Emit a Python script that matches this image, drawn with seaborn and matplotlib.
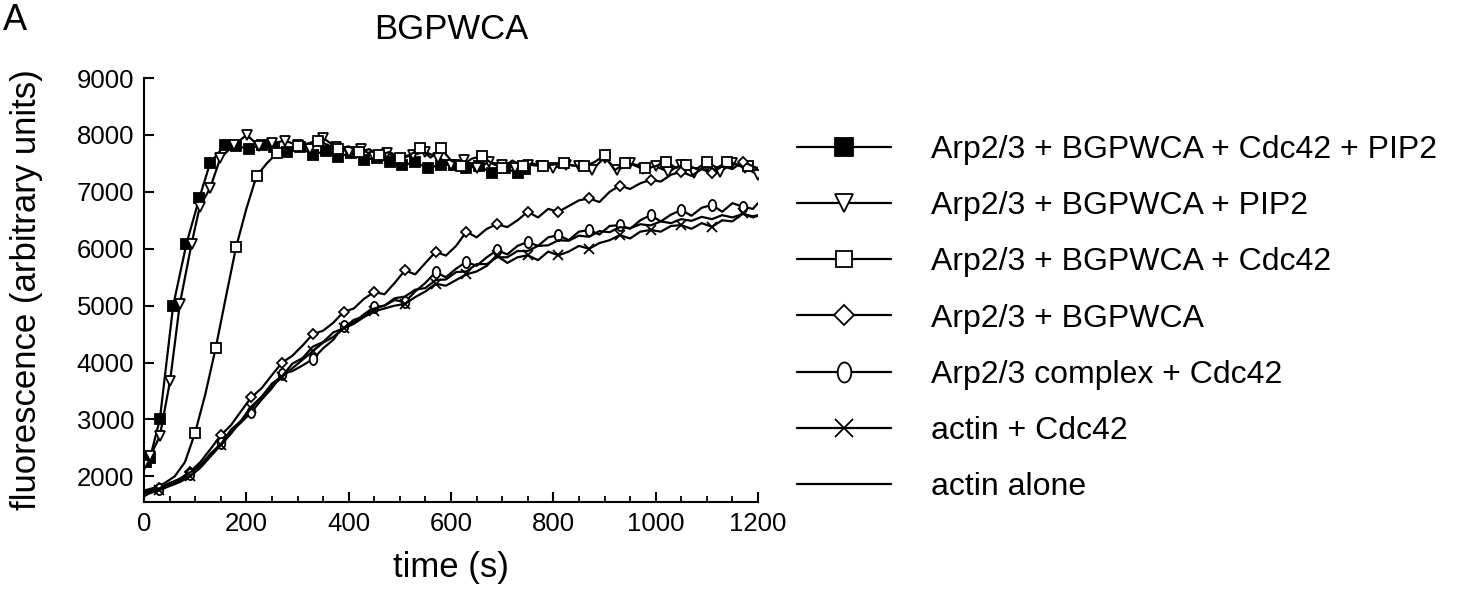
import numpy as np
import matplotlib
matplotlib.use("Agg")
import matplotlib.pyplot as plt
from matplotlib.lines import Line2D
from matplotlib.path import Path
from matplotlib.ticker import MultipleLocator
import seaborn as sns

# ---------------- data ----------------
labels = [
    "Arp2/3 + BGPWCA + Cdc42 + PIP2",
    "Arp2/3 + BGPWCA + PIP2",
    "Arp2/3 + BGPWCA + Cdc42",
    "Arp2/3 + BGPWCA",
    "Arp2/3 complex + Cdc42",
    "actin + Cdc42",
    "actin alone",
]

# Arp2/3 + BGPWCA + Cdc42 + PIP2 (filled squares)
t_cdc42_pip2 = [3, 12, 31, 57, 83, 108, 129, 158, 180, 205, 230, 255, 280, 305, 330,
                355, 380, 405, 430, 455, 480, 505, 530, 555, 580, 605, 630, 655, 680,
                705, 730, 745]
f_cdc42_pip2 = [2250, 2330, 3005, 5000, 6090, 6885, 7500, 7825, 7800, 7760, 7820, 7780,
                7700, 7790, 7650, 7720, 7620, 7680, 7560, 7600, 7520, 7470, 7520, 7415,
                7480, 7470, 7420, 7450, 7330, 7420, 7330, 7400]

# Arp2/3 + BGPWCA + PIP2 (open down triangles)
t_pip2 = [0, 12, 31, 51, 70, 93, 109, 129, 149, 175, 201, 225, 250, 275, 300, 325, 350,
          375, 400, 425, 450, 475, 500, 525, 550, 575, 600, 625, 650, 675, 700, 725, 750,
          775, 800, 825, 850, 875, 900, 925, 950, 975, 1000, 1025, 1050, 1075, 1100,
          1125, 1150, 1175, 1200]
f_pip2 = [2200, 2350, 2710, 3680, 5030, 6090, 6740, 7060, 7590, 7820, 8000, 7800, 7850,
          7900, 7820, 7750, 7950, 7780, 7700, 7750, 7620, 7680, 7580, 7650, 7700, 7600,
          7480, 7560, 7420, 7520, 7480, 7420, 7480, 7450, 7420, 7480, 7450, 7380, 7600,
          7380, 7500, 7400, 7450, 7350, 7480, 7330, 7450, 7350, 7500, 7420, 7300]

# Arp2/3 + BGPWCA + Cdc42 (open squares)
t_cdc42 = [0, 20, 40, 60, 80, 100, 120, 140, 160, 180, 200, 220, 240, 260, 280, 300,
           320, 340, 360, 380, 400, 420, 440, 460, 480, 500, 520, 540, 560, 580, 600,
           620, 640, 660, 680, 700, 720, 740, 760, 780, 800, 820, 840, 860, 880, 900,
           920, 940, 960, 980, 1000, 1020, 1040, 1060, 1080, 1100, 1120, 1140, 1160,
           1180, 1200]
f_cdc42 = [1750, 1800, 1880, 2000, 2250, 2770, 3450, 4250, 5150, 6030, 6700, 7280, 7500,
           7680, 7750, 7800, 7850, 7900, 7820, 7750, 7800, 7700, 7750, 7650, 7700, 7600,
           7650, 7770, 7600, 7770, 7550, 7450, 7580, 7630, 7500, 7420, 7550, 7450, 7500,
           7450, 7480, 7500, 7460, 7450, 7520, 7640, 7380, 7500, 7480, 7410, 7450, 7530,
           7420, 7480, 7400, 7530, 7420, 7530, 7480, 7450, 7420]

# shared time base of the slower curves
t_slow = [0, 10, 30, 50, 70, 90, 110, 130, 150, 170, 190, 210, 230, 250, 270, 290, 310,
          330, 350, 370, 390, 410, 430, 450, 470, 490, 510, 530, 550, 570, 590, 610,
          630, 650, 670, 690, 710, 730, 750, 770, 790, 810, 830, 850, 870, 890, 910,
          930, 950, 970, 990, 1010, 1030, 1050, 1070, 1090, 1110, 1130, 1150, 1170,
          1190, 1200]

# Arp2/3 + BGPWCA (diamonds)
f_bgpwca = [1720, 1750, 1800, 1880, 1960, 2080, 2250, 2480, 2720, 2900, 3150, 3390, 3550,
            3780, 4000, 4120, 4300, 4500, 4560, 4700, 4890, 4950, 5120, 5240, 5200, 5400,
            5620, 5550, 5750, 5945, 5880, 6050, 6300, 6200, 6350, 6430, 6380, 6500, 6650,
            6550, 6700, 6650, 6750, 6850, 6885, 6820, 7000, 7110, 7050, 7150, 7210, 7180,
            7300, 7355, 7280, 7400, 7325, 7450, 7400, 7530, 7450, 7400]

# Arp2/3 complex + Cdc42 (ellipses)
f_complex = [1700, 1730, 1780, 1850, 1930, 2050, 2200, 2380, 2580, 2780, 2950, 3130, 3350,
             3550, 3800, 3850, 3950, 4060, 4250, 4400, 4650, 4700, 4850, 4975, 5000, 5100,
             5060, 5250, 5400, 5590, 5500, 5650, 5770, 5700, 5850, 5975, 5900, 6050, 6120,
             6050, 6200, 6240, 6150, 6300, 6330, 6250, 6400, 6415, 6350, 6500, 6590, 6480,
             6600, 6680, 6580, 6720, 6770, 6650, 6800, 6740, 6700, 6800]

# actin + Cdc42 (crosses)
f_actin_cdc42 = [1650, 1700, 1760, 1830, 1900, 2000, 2150, 2350, 2550, 2750, 2980, 3200,
                 3400, 3580, 3750, 3900, 4050, 4200, 4350, 4450, 4600, 4680, 4800, 4900,
                 4950, 5000, 5030, 5150, 5250, 5385, 5350, 5450, 5550, 5600, 5700, 5885,
                 5750, 5850, 5885, 5800, 5950, 5885, 5950, 6050, 6000, 6100, 6150, 6240,
                 6180, 6300, 6330, 6300, 6400, 6415, 6350, 6450, 6385, 6500, 6480, 6620,
                 6550, 6580]

# actin alone (plain line)
f_actin = [1720, 1760, 1790, 1880, 1940, 2070, 2190, 2400, 2560, 2820, 2980, 3230, 3400,
           3630, 3760, 3980, 4080, 4280, 4360, 4530, 4600, 4750, 4810, 4950, 5000, 5130,
           5160, 5280, 5310, 5450, 5460, 5590, 5600, 5730, 5730, 5850, 5850, 5960, 5960,
           6050, 6060, 6150, 6140, 6230, 6210, 6310, 6290, 6380, 6360, 6430, 6410, 6480,
           6450, 6520, 6490, 6560, 6520, 6590, 6550, 6610, 6570, 6590]

xticks = [0, 200, 400, 600, 800, 1000, 1200]
yticks = [2000, 3000, 4000, 5000, 6000, 7000, 8000, 9000]

# ---------------- style ----------------
sns.set_theme(style="ticks")
plt.rcParams["font.family"] = ["Liberation Sans", "DejaVu Sans"]
plt.rcParams["text.color"] = "black"
plt.rcParams["axes.labelcolor"] = "black"
plt.rcParams["xtick.color"] = "black"
plt.rcParams["ytick.color"] = "black"
plt.rcParams["axes.linewidth"] = 1.5

theta = np.linspace(0, 2 * np.pi, 60)
ellipse = Path(np.column_stack([0.68 * np.cos(theta), np.sin(theta)]), closed=True)

fig = plt.figure(figsize=(14.58, 5.96), dpi=100)
ax = fig.add_axes([144 / 1458, 1 - 502 / 596, 614 / 1458, 424 / 596])

LW = 1.6
series = [
    (t_cdc42_pip2, f_cdc42_pip2, dict(marker="s", ms=7.5, mfc="black", markevery=1)),
    (t_pip2, f_pip2, dict(marker="v", ms=7, mfc="white", markevery=1)),
    (t_cdc42, f_cdc42, dict(marker="s", ms=6.5, mfc="white", markevery=(5, 2))),
    (t_slow, f_bgpwca, dict(marker="D", ms=5.5, mfc="white", markevery=(2, 3))),
    (t_slow, f_complex, dict(marker=ellipse, ms=8, mfc="white", markevery=(2, 3))),
    (t_slow, f_actin_cdc42, dict(marker="x", ms=7, mfc="white", markevery=(2, 3))),
    (t_slow, f_actin, dict(marker=None)),
]

handles = []
for (t, f, st), lab in zip(series, labels):
    kw = dict(color="black", lw=LW, mec="black", mew=1.3)
    kw.update(st)
    sns.lineplot(x=t, y=f, ax=ax, sort=False, estimator=None, **kw)
    hk = dict(kw)
    hk.pop("markevery", None)
    handles.append(Line2D([0], [0], label=lab, **hk))

ax.set_xlim(0, 1200)
ax.set_ylim(1550, 9000)
ax.set_xticks(xticks)
ax.set_yticks(yticks)
ax.xaxis.set_minor_locator(MultipleLocator(50))
ax.tick_params(axis="both", which="major", direction="in", length=7, width=1.5,
               labelsize=18.5, colors="black", pad=7)
ax.tick_params(axis="x", which="minor", direction="in", length=4.5, width=1.3)
for s in ("top", "right"):
    ax.spines[s].set_visible(False)
for s in ("left", "bottom"):
    ax.spines[s].set_color("black")
    ax.spines[s].set_linewidth(1.5)

ax.set_xlabel("time (s)", fontsize=25, color="black")
ax.set_ylabel("fluorescence (arbitrary units)", fontsize=25, color="black")
ax.xaxis.set_label_coords(0.5, -0.115)
ax.yaxis.set_label_coords(-0.165, 0.5)
ax.set_title("BGPWCA", fontsize=25, pad=28, color="black")

leg = fig.legend(handles=handles, loc="upper left",
                 bbox_to_anchor=(797 / 1458, 1 - 135 / 596),
                 frameon=False, fontsize=23, handlelength=2.95, handletextpad=1.25,
                 labelspacing=0.82, borderpad=0, borderaxespad=0, numpoints=1,
                 markerscale=1.8)
for txt in leg.get_texts():
    txt.set_color("black")

fig.text(0.002, 1 - 30 / 596, "A", fontsize=26, ha="left", va="baseline", color="black")

fig.savefig("out.png", dpi=100)
